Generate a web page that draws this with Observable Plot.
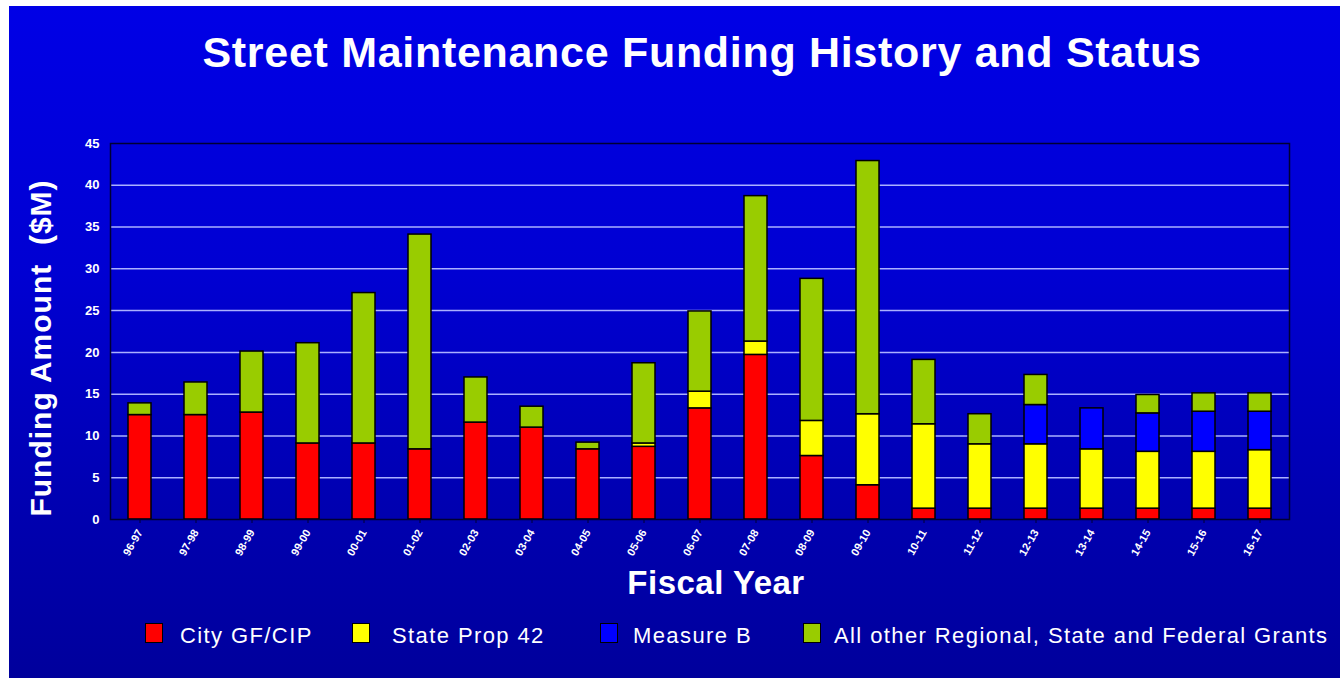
<!DOCTYPE html>
<html><head><meta charset="utf-8">
<script src="https://cdn.jsdelivr.net/npm/d3@7"></script>
<script src="https://cdn.jsdelivr.net/npm/@observablehq/plot@0.6"></script>
<style>
body{margin:0;background:#fff;width:1340px;height:678px;overflow:hidden;position:relative;font-family:"Liberation Sans",Arial,sans-serif;}
#bg{position:absolute;left:9px;top:6px;width:1331px;height:672px;background:linear-gradient(#0000e6 0%, #0000d2 40%, #0000b0 75%, #00009c 100%);}
#title{position:absolute;left:702px;top:52px;transform:translate(-50%,-50%);color:#fff;font-weight:bold;font-size:43px;letter-spacing:0.7px;white-space:nowrap;}
#ylab{position:absolute;left:41px;top:348px;transform:translate(-50%,-50%) rotate(-90deg);color:#fff;font-weight:bold;font-size:30px;letter-spacing:1px;white-space:pre;}
#xlab{position:absolute;left:716px;top:583px;transform:translate(-50%,-50%);color:#fff;font-weight:bold;font-size:33px;letter-spacing:0.5px;}
#chart{position:absolute;left:0;top:110px;}
.lg{position:absolute;top:623px;color:#fff;font-size:22px;letter-spacing:1.4px;white-space:nowrap;}
.sw{position:absolute;top:623px;width:16px;height:18px;border:1.5px solid #000;}
</style>
</head><body>
<div id="bg"></div>
<div id="title">Street Maintenance Funding History and Status</div>
<div id="ylab">Funding Amount  ($M)</div>
<div id="xlab">Fiscal Year</div>
<div id="chart"></div>
<div id="legend"></div>
<script>
const years = ["96-97","97-98","98-99","99-00","00-01","01-02","02-03","03-04","04-05","05-06","06-07","07-08","08-09","09-10","10-11","11-12","12-13","13-14","14-15","15-16","16-17"];
const series = ["City GF/CIP","State Prop 42","Measure B","All other Regional, State and Federal Grants"];
const colors = ["#ff0000","#ffff00","#0000ff","#99cc00"];
const city    = [12.5,12.5,12.8,9.1,9.1,8.4,11.6,11.0,8.4,8.7,13.3,19.7,7.6,4.1,1.3,1.3,1.3,1.3,1.3,1.3,1.3];
const prop42  = [0,0,0,0,0,0,0,0,0,0.4,2.0,1.6,4.2,8.5,10.1,7.7,7.7,7.1,6.8,6.8,7.0];
const measureB= [0,0,0,0,0,0,0,0,0,0,0,0,0,0,0,0,4.7,4.9,4.6,4.8,4.6];
const grants  = [1.4,3.9,7.3,12.0,18.0,25.7,5.4,2.5,0.8,9.6,9.6,17.4,17.0,30.3,7.7,3.6,3.6,0,2.2,2.2,2.2];
const yTicks = [0,5,10,15,20,25,30,35,40,45];
const gridVals = [5,10,15,20,25,30,35,40];

const values = [city, prop42, measureB, grants];
const data = years.flatMap((y,i)=>series.map((s,j)=>({year:y, series:s, value:values[j][i]}))).filter(d=>d.value>0);

const plot = Plot.plot({
  width:1340, height:490,
  marginLeft:110, marginRight:51, marginTop:33, marginBottom:81,
  style:{background:"transparent", color:"white", fontFamily:"'Liberation Sans', Arial, sans-serif"},
  x:{domain:years, paddingInner:0.59, paddingOuter:0.26, label:null},
  y:{domain:[0,45], label:null},
  color:{domain:series, range:colors},
  marks:[
    Plot.ruleY(gridVals, {stroke:"#aab0ff", strokeWidth:1.5}),
    Plot.barY(data, {x:"year", y:"value", fill:"series", order:series, stroke:"#000", strokeWidth:1.5}),
    Plot.frame({stroke:"#000033", strokeWidth:1.5}),
    Plot.axisY({ticks:yTicks, tickSize:0, tickPadding:11, fill:"white", fontSize:13, fontWeight:"bold", label:null}),
    Plot.axisX({tickRotate:-60, tickSize:4, stroke:"#000033", fill:"white", fontSize:11, fontWeight:"bold", label:null})
  ]
});
document.getElementById("chart").appendChild(plot);

const lg = document.getElementById("legend");
const swX = [145, 352, 600, 803];
const txX = [180, 392, 633, 834];
series.forEach((s,i)=>{
  const sw = document.createElement("div");
  sw.className="sw"; sw.style.left=swX[i]+"px"; sw.style.background=colors[i];
  lg.appendChild(sw);
  const t = document.createElement("div");
  t.className="lg"; t.style.left=txX[i]+"px"; t.textContent=s;
  lg.appendChild(t);
});
</script>
</body></html>
